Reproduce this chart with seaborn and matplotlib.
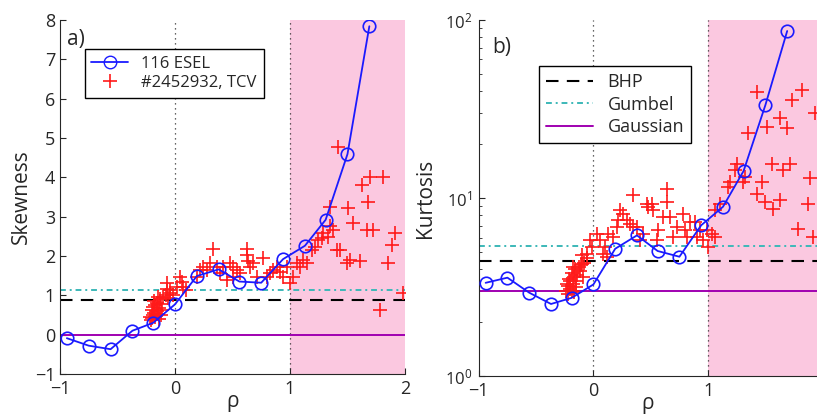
import numpy as np
import pandas as pd
import seaborn as sns
import matplotlib
matplotlib.use('Agg')
import matplotlib.pyplot as plt
from matplotlib.lines import Line2D

sns.set_style('ticks')
plt.rcParams['font.family'] = ['Open Sans', 'DejaVu Sans']
plt.rcParams['xtick.direction'] = 'in'
plt.rcParams['ytick.direction'] = 'in'

# ESEL simulation (blue circles)
esel_rho = [-0.94, -0.75, -0.56, -0.37, -0.19, 0.0, 0.19, 0.38, 0.56, 0.75, 0.94, 1.13, 1.31, 1.50, 1.69]
esel_skew = [-0.09, -0.28, -0.37, 0.10, 0.30, 0.77, 1.49, 1.66, 1.35, 1.32, 1.92, 2.26, 2.92, 4.59, 7.84]
esel_kurt = [3.34, 3.57, 2.94, 2.54, 2.75, 3.27, 5.19, 6.17, 5.04, 4.68, 7.03, 8.93, 14.2, 33.3, 86.7]

# TCV probe data (red plus), skewness panel
tcv_rho_s = [-0.20, -0.19, -0.18, -0.20, -0.17, -0.16, -0.19, -0.17, -0.15, -0.14, -0.18, -0.16,
             -0.13, -0.15, -0.12, -0.11, -0.10, -0.08, -0.06, -0.21, -0.22, -0.14, -0.12, -0.04,
             -0.07, -0.072, -0.043, -0.014, 0.043, 0.014, 0.072, 0.058, 0.10, 0.188, 0.217, 0.246,
             0.275, 0.304, 0.333, 0.362, 0.391, 0.42, 0.449, 0.478, 0.507, 0.507, 0.536, 0.565,
             0.623, 0.623, 0.638, 0.652, 0.681, 0.71, 0.768, 0.797, 0.826, 0.855, 0.884, 0.913,
             0.942, 0.971, 1.0, 1.029, 1.058, 1.087, 1.116, 1.145, 1.188, 1.217, 1.246, 1.275,
             1.29, 1.333, 1.348, 1.377, 1.348, 1.406, 1.435, 1.493, 1.522, 1.551, 1.507, 1.42,
             1.623, 1.696, 1.812, 1.681, 1.667, 1.725, 1.609, 1.913, 1.884, 1.855, 1.783, 1.986]
tcv_skew = [0.42, 0.50, 0.55, 0.62, 0.45, 0.60, 0.70, 0.75, 0.52, 0.68, 0.85, 0.80,
            0.90, 0.95, 0.78, 0.62, 0.95, 1.00, 0.93, 0.38, 0.45, 0.40, 0.50, 1.05,
            1.15, 1.31, 1.14, 1.01, 1.47, 1.22, 1.22, 1.35, 1.14, 1.47, 1.64, 1.73,
            1.64, 1.81, 2.19, 1.73, 1.56, 1.73, 1.39, 1.81, 1.73, 1.47, 1.64, 1.56,
            2.19, 2.03, 1.86, 1.73, 1.81, 1.47, 1.94, 1.47, 1.56, 1.64, 1.73, 1.60,
            1.47, 1.73, 1.31, 1.47, 1.81, 1.73, 1.90, 1.81, 2.15, 2.24, 2.41, 2.45,
            2.58, 2.49, 2.75, 2.66, 3.25, 2.15, 2.15, 1.81, 1.90, 2.83, 3.21, 4.78,
            3.81, 4.02, 4.02, 3.38, 2.66, 2.66, 1.86, 2.58, 2.28, 1.81, 0.63, 1.05]

# TCV probe data, kurtosis panel
tcv_rho_k = [-0.24, -0.22, -0.21, -0.20, -0.19, -0.18, -0.17, -0.16, -0.15, -0.14, -0.13, -0.12,
             -0.11, -0.22, -0.19, -0.17, -0.15, -0.20, -0.08, -0.06, -0.09, -0.23, -0.18, -0.10,
             -0.102, -0.058, -0.015, -0.029, 0.029, 0.058, 0.087, 0.102, 0.116, 0.131, 0.174, 0.203,
             0.233, 0.218, 0.262, 0.291, 0.32, 0.349, 0.349, 0.378, 0.407, 0.436, 0.465, 0.48,
             0.509, 0.523, 0.552, 0.567, 0.61, 0.64, 0.64, 0.669, 0.698, 0.727, 0.785, 0.80,
             0.814, 0.843, 0.887, 0.901, 0.93, 0.959, 0.988, 1.003, 1.032, 1.061, 1.061, 1.105,
             1.177, 1.192, 1.235, 1.25, 1.323, 1.308, 1.352, 1.424, 1.512, 1.555, 1.468, 1.424,
             1.497, 1.57, 1.628, 1.628, 1.686, 1.657, 1.715, 1.73, 1.817, 1.788, 1.875, 1.89,
             1.933, 1.919]
tcv_kurt = [3.0, 3.2, 3.5, 3.1, 3.8, 3.3, 3.6, 4.0, 3.4, 3.7, 4.1, 3.9,
            4.2, 2.9, 3.0, 2.95, 3.15, 3.4, 4.3, 4.6, 3.6, 3.3, 4.1, 4.8,
            4.28, 4.87, 5.31, 5.79, 6.31, 5.79, 4.87, 5.31, 4.67, 6.31, 6.05, 6.89,
            8.54, 7.50, 8.18, 7.50, 7.19, 6.89, 10.4, 6.89, 5.79, 6.31, 9.31, 8.92,
            9.31, 8.54, 5.79, 6.59, 7.84, 11.3, 9.51, 7.84, 6.05, 6.89, 8.18, 6.59,
            6.05, 7.34, 7.34, 6.05, 6.59, 5.79, 6.59, 5.31, 6.31, 6.05, 8.54, 9.31,
            11.6, 12.3, 14.3, 15.6, 13.2, 12.3, 23.1, 39.5, 25.1, 15.6, 12.3, 10.6,
            9.51, 8.73, 9.72, 28.0, 24.6, 14.3, 15.6, 35.5, 40.4, 6.73, 9.31, 12.9,
            29.9, 6.05]

# reference distributions: BHP, Gumbel, Gaussian
ref_names = ['BHP', 'Gumbel', 'Gaussian']
ref_skew = [0.87, 1.14, 0.0]
ref_kurt = [4.45, 5.4, 3.0]

esel = pd.DataFrame({'rho': esel_rho, 'skew': esel_skew, 'kurt': esel_kurt})
tcv_s = pd.DataFrame({'rho': tcv_rho_s, 'skew': tcv_skew})
tcv_k = pd.DataFrame({'rho': tcv_rho_k, 'kurt': tcv_kurt})

blue = '#1a1aff'
red = '#ff1a1a'
pink = '#fbc8e0'
ref_styles = [dict(color='black', ls=(0, (6, 4)), lw=1.5),
              dict(color='#3cb8b8', ls=(0, (3, 2, 1, 2)), lw=1.4),
              dict(color='#a000b0', ls='-', lw=1.4)]

fig = plt.figure(figsize=(8.17, 4.16), dpi=100)
ax1 = fig.add_axes([0.0734, 0.101, 0.4223, 0.851])
ax2 = fig.add_axes([0.586, 0.096, 0.414, 0.856])


def draw(ax, ycol, tcv, refs):
    ax.axvspan(1, 2, color=pink, lw=0, zorder=0)
    for x in (0, 1):
        ax.axvline(x, color='#333333', ls=(0, (1, 3)), lw=0.9, zorder=1)
    for val, st in zip(refs, ref_styles):
        ax.axhline(val, zorder=2, **st)
    sns.scatterplot(data=tcv, x='rho', y=ycol, ax=ax, marker='+', color=red, s=90,
                    linewidth=1.2, zorder=3, legend=False)
    sns.lineplot(data=esel, x='rho', y=ycol, ax=ax, color=blue, lw=1.3, marker='o',
                 markersize=9, markerfacecolor='none', markeredgecolor=blue,
                 markeredgewidth=1.2, zorder=4, legend=False)
    sns.despine(ax=ax)
    ax.set_xlabel('ρ', fontsize=15, labelpad=-5)
    ax.tick_params(labelsize=13, length=4)
    ax.tick_params(axis='x', pad=4)


draw(ax1, 'skew', tcv_s, ref_skew)
ax1.set_xlim(-1, 2)
ax1.set_ylim(-1, 8)
ax1.set_xticks([-1, 0, 1, 2])
ax1.set_yticks(range(-1, 9))
ax1.set_xticklabels(['−1', '0', '1', '2'])
ax1.set_yticklabels(['−1'] + [str(i) for i in range(0, 9)])
ax1.set_ylabel('Skewness', fontsize=15, labelpad=2)
ax1.text(-0.94, 7.5, 'a)', fontsize=15, va='center')
h1 = [Line2D([], [], color=blue, marker='o', markerfacecolor='none', markersize=9, lw=1.3),
      Line2D([], [], color=red, marker='+', ls='none', markersize=10, markeredgewidth=1.2)]
ax1.legend(h1, ['116 ESEL', '#2452932, TCV'], loc='upper left', bbox_to_anchor=(0.072, 0.918),
           fontsize=12, frameon=True, fancybox=False, edgecolor='black', framealpha=1,
           borderaxespad=0, handlelength=2.2, labelspacing=0.2)

draw(ax2, 'kurt', tcv_k, ref_kurt)
ax2.set_yscale('log')
ax2.set_xlim(-1, 1.95)
ax2.set_ylim(1, 100)
ax2.set_xticks([-1, 0, 1])
ax2.set_xticklabels(['−1', '0', '1'])
ax2.set_ylabel('Kurtosis', fontsize=15, labelpad=6)
ax2.tick_params(axis='y', labelsize=12, pad=5)
ax2.tick_params(which='minor', direction='in', length=2.5)
ax2.text(-0.88, 70, 'b)', fontsize=15, va='center')
h2 = [Line2D([], [], **st) for st in ref_styles]
ax2.legend(h2, ref_names, loc='upper left', bbox_to_anchor=(0.178, 0.871), fontsize=13,
           frameon=True, fancybox=False, edgecolor='black', framealpha=1, borderaxespad=0,
           handlelength=2.6, labelspacing=0.25)

fig.savefig('out.png', dpi=100)
